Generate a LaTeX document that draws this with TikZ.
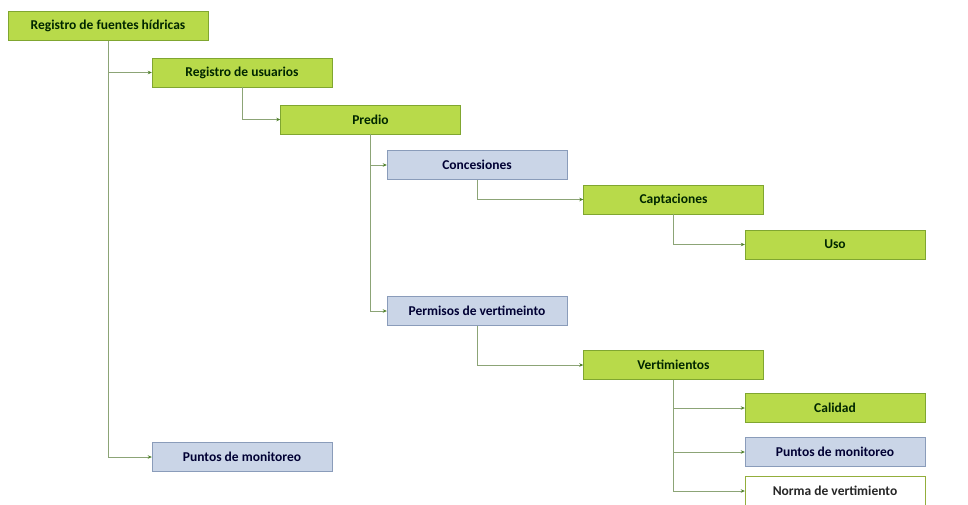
\documentclass[tikz,border=0pt]{standalone}
\usepackage{fontspec}
\setmainfont{Carlito}
\usetikzlibrary{arrows.meta}

\definecolor{leaf}{RGB}{184,218,74}
\definecolor{leafline}{RGB}{128,166,48}
\definecolor{mist}{RGB}{202,213,231}
\definecolor{mistline}{RGB}{138,156,186}
\definecolor{wire}{RGB}{140,164,118}
\definecolor{tipgreen}{RGB}{78,128,40}

\begin{document}
\begin{tikzpicture}[x=1pt, y=-1pt,
      box/.style={draw=leafline, fill=leaf, minimum width=180pt, minimum height=29pt,
        inner sep=0pt, font=\fontsize{13.5}{15}\selectfont\bfseries, text=black!85!green},
      bluebox/.style={box, draw=mistline, fill=mist, text=black!80!blue},
      plainbox/.style={box, draw=leaf!80!black, fill=white, text=black!85},
      conn/.style={draw=wire, line width=0.8pt, -{Stealth[length=4pt, width=3.5pt, color=tipgreen]}}]

    \useasboundingbox (0,0) rectangle (968,504);

    % top of the tree
    \node[box, minimum width=200pt] (fuentes) at (108,26) {Registro de fuentes hídricas};
    \node[box] (usuarios) at (242,72.5) {Registro de usuarios};
    \node[box] (predio) at (370.5,119.5) {Predio};

    % concesiones branch
    \node[bluebox] (concesiones) at (477,165) {Concesiones};
    \node[box] (captaciones) at (673.5,199.5) {Captaciones};
    \node[box] (uso) at (835,244.5) {Uso};

    % vertimiento branch
    \node[bluebox] (permisos) at (477,311) {Permisos de vertimeinto};
    \node[box] (vertimientos) at (673.5,365) {Vertimientos};
    \node[box] (calidad) at (835,408) {Calidad};
    \node[bluebox] (puntosv) at (835,452) {Puntos de monitoreo};
    \node[plainbox] (norma) at (835,491) {Norma de vertimiento};

    \node[bluebox] (puntos) at (242,457) {Puntos de monitoreo};

    \draw[conn] (fuentes.south) |- (usuarios.west);
    \draw[conn] (fuentes.south) |- (puntos.west);
    \draw[conn] (usuarios.south) |- (predio.west);
    \draw[conn] (predio.south) |- (concesiones.west);
    \draw[conn] (predio.south) |- (permisos.west);
    \draw[conn] (concesiones.south) |- (captaciones.west);
    \draw[conn] (captaciones.south) |- (uso.west);
    \draw[conn] (permisos.south) |- (vertimientos.west);
    \draw[conn] (vertimientos.south) |- (calidad.west);
    \draw[conn] (vertimientos.south) |- (puntosv.west);
    \draw[conn] (vertimientos.south) |- (norma.west);
  \end{tikzpicture}
\end{document}
